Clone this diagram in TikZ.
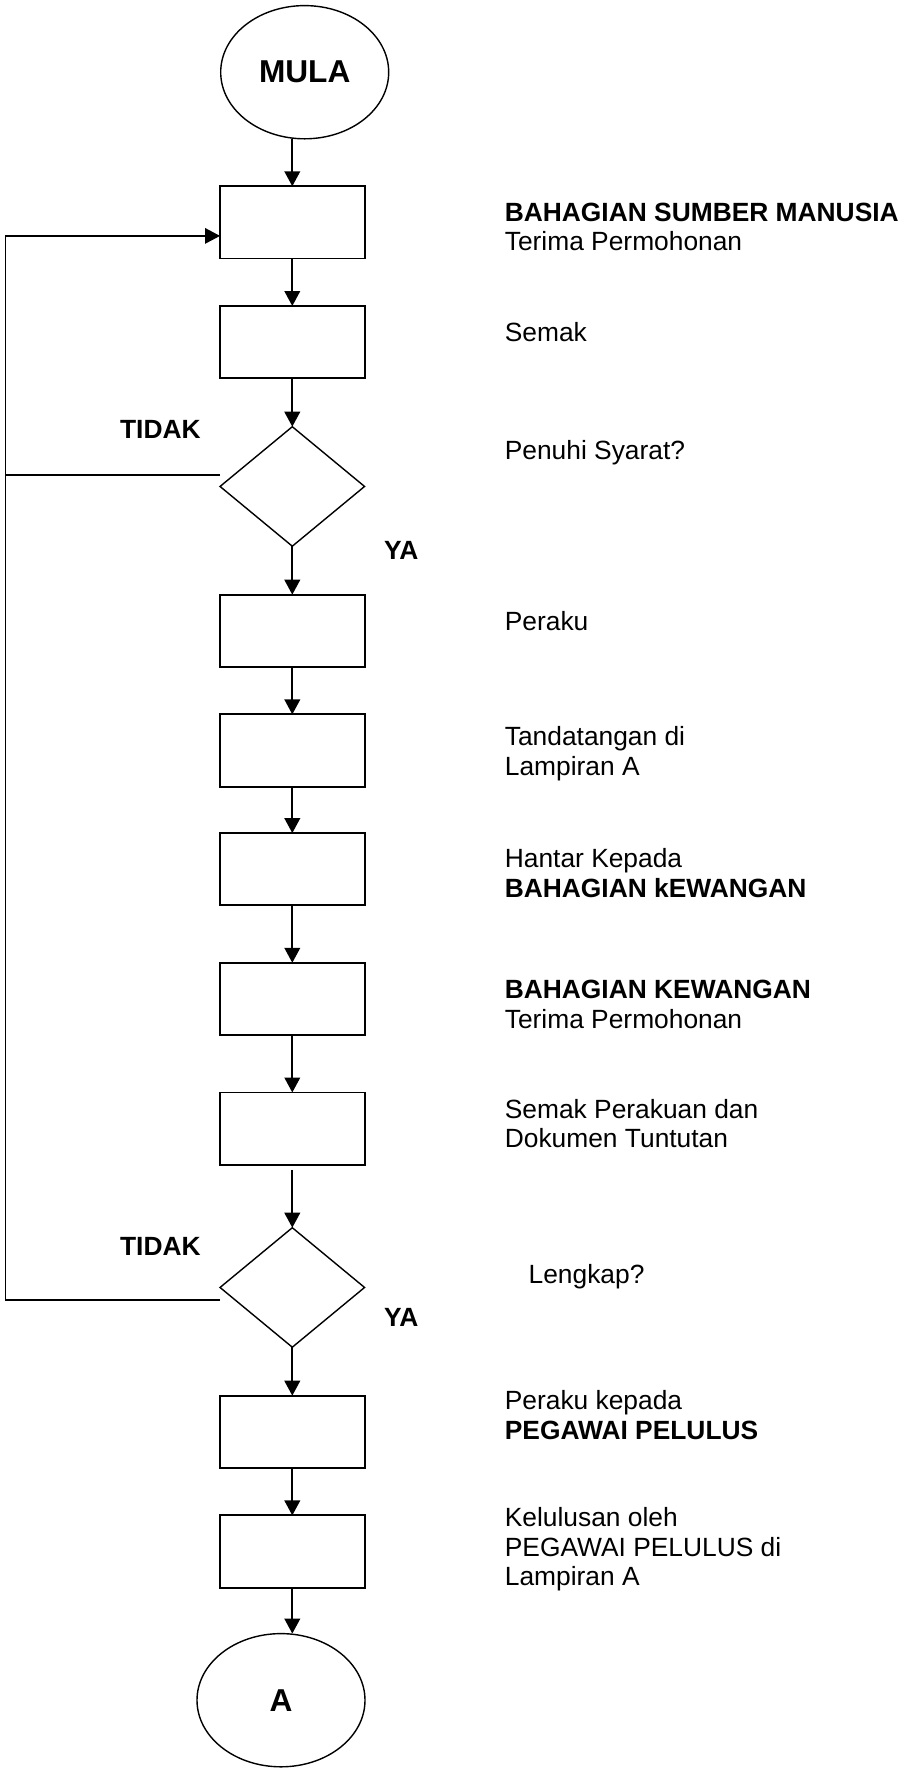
\documentclass[tikz,border=0pt]{standalone}
\usepackage{fontspec}
\setmainfont{Liberation Sans}
\usetikzlibrary{positioning}
\usetikzlibrary{shapes.geometric}
\usetikzlibrary{arrows.meta}

\begin{document}
\begin{tikzpicture}[node distance=9.5mm,
    every node/.style={font=\fontsize{15}{17}\selectfont},
    stepbox/.style={draw, line width=1.1pt, minimum width=2.89cm, minimum height=1.444cm, inner sep=0pt, outer sep=0pt},
    decision/.style={draw, diamond, line width=0.8pt, minimum width=2.89cm, minimum height=2.39cm, inner sep=0pt, outer sep=0pt},
    terminal/.style={draw, ellipse, line width=0.8pt, minimum width=3.36cm, minimum height=2.664cm, inner sep=0pt, outer sep=0pt, font=\fontsize{18}{20}\selectfont\bfseries},
    desc/.style={anchor=west, align=left, inner sep=0pt},
    answer/.style={font=\fontsize{15}{17}\selectfont\bfseries, inner sep=0pt},
    arrowline/.style={-{Triangle[length=3mm,width=3.1mm]}, line width=1.3pt},
    backline/.style={line width=0.9pt}]

        \useasboundingbox (0,0) rectangle (18.06,-35.38);

        % Flow column
        \node[stepbox] (recv) at (5.846,-4.448) {};
        \node[terminal, above=of recv, xshift=2.48mm] (mula) {MULA};
        \node[stepbox, below=of recv] (check) {};
        \node[decision, below=9.7mm of check] (req) {};
        \node[stepbox, below=9.7mm of req] (certify) {};
        \node[stepbox, below=of certify] (sign) {};
        \node[stepbox, below=9.3mm of sign] (send) {};
        \node[stepbox, below=11.5mm of send] (finRecv) {};
        \node[stepbox, below=11.5mm of finRecv] (finCheck) {};
        \node[decision, below=12.6mm of finCheck] (complete) {};
        \node[stepbox, below=9.7mm of complete] (recommend) {};
        \node[stepbox, below=of recommend] (approve) {};
        \node[terminal, below=9.2mm of approve, xshift=-2.26mm] (endA) {A};

        % Arrows
        \draw[arrowline] (recv.north |- mula.south) -- (recv.north);
        \foreach \a/\b in {recv/check, check/req, req/certify, certify/sign, sign/send,
                send/finRecv, finRecv/finCheck, complete/recommend, recommend/approve}
            \draw[arrowline] (\a) -- (\b);
        \draw[arrowline, shorten <=1mm] (finCheck) -- (complete);
        \draw[arrowline] (approve.south) -- (approve.south |- endA.north);

        % Back lines (TIDAK)
        \draw[arrowline, line width=0.9pt] ([yshift=2.26mm]req.west) -| ([xshift=-4.29cm]req.west) |- ([yshift=-2.7mm]recv.west);
        \draw[backline] ([yshift=-2.48mm]complete.west) -| ([xshift=-4.29cm,yshift=2.26mm]req.west);

        % Answers
        \node[answer, anchor=east] (noReq) at (4.02,-8.58) {TIDAK};
        \node[answer, anchor=west] (yesReq) at (7.676,-11.016) {YA};
        \node[answer, anchor=east] (noDoc) at (4.02,-24.922) {TIDAK};
        \node[answer, anchor=west] (yesDoc) at (7.676,-26.346) {YA};

        % Right column texts
        \node[desc] (tRecv) at (10.09,-4.538) {\textbf{BAHAGIAN SUMBER MANUSIA}\\Terima Permohonan};
        \node[desc] (tCheck) at (10.09,-6.638) {Semak};
        \node[desc] (tReq) at (10.09,-9.052) {Penuhi Syarat?};
        \node[desc] (tCertify) at (10.09,-12.416) {Peraku};
        \node[desc] (tSign) at (10.09,-15.08) {Tandatangan di\\Lampiran A};
        \node[desc] (tSend) at (10.09,-17.462) {Hantar Kepada\\\textbf{BAHAGIAN kEWANGAN}};
        \node[desc] (tFinRecv) at (10.09,-20.08) {\textbf{BAHAGIAN KEWANGAN}\\Terima Permohonan};
        \node[desc] (tFinCheck) at (10.09,-22.472) {Semak Perakuan dan\\Dokumen Tuntutan};
        \node[desc] (tComplete) at (10.566,-25.532) {Lengkap?};
        \node[desc] (tRecommend) at (10.09,-28.298) {Peraku kepada\\\textbf{PEGAWAI PELULUS}};
        \node[desc] (tApprove) at (10.09,-30.984) {Kelulusan oleh\\PEGAWAI PELULUS di\\Lampiran A};

    \end{tikzpicture}
\end{document}
